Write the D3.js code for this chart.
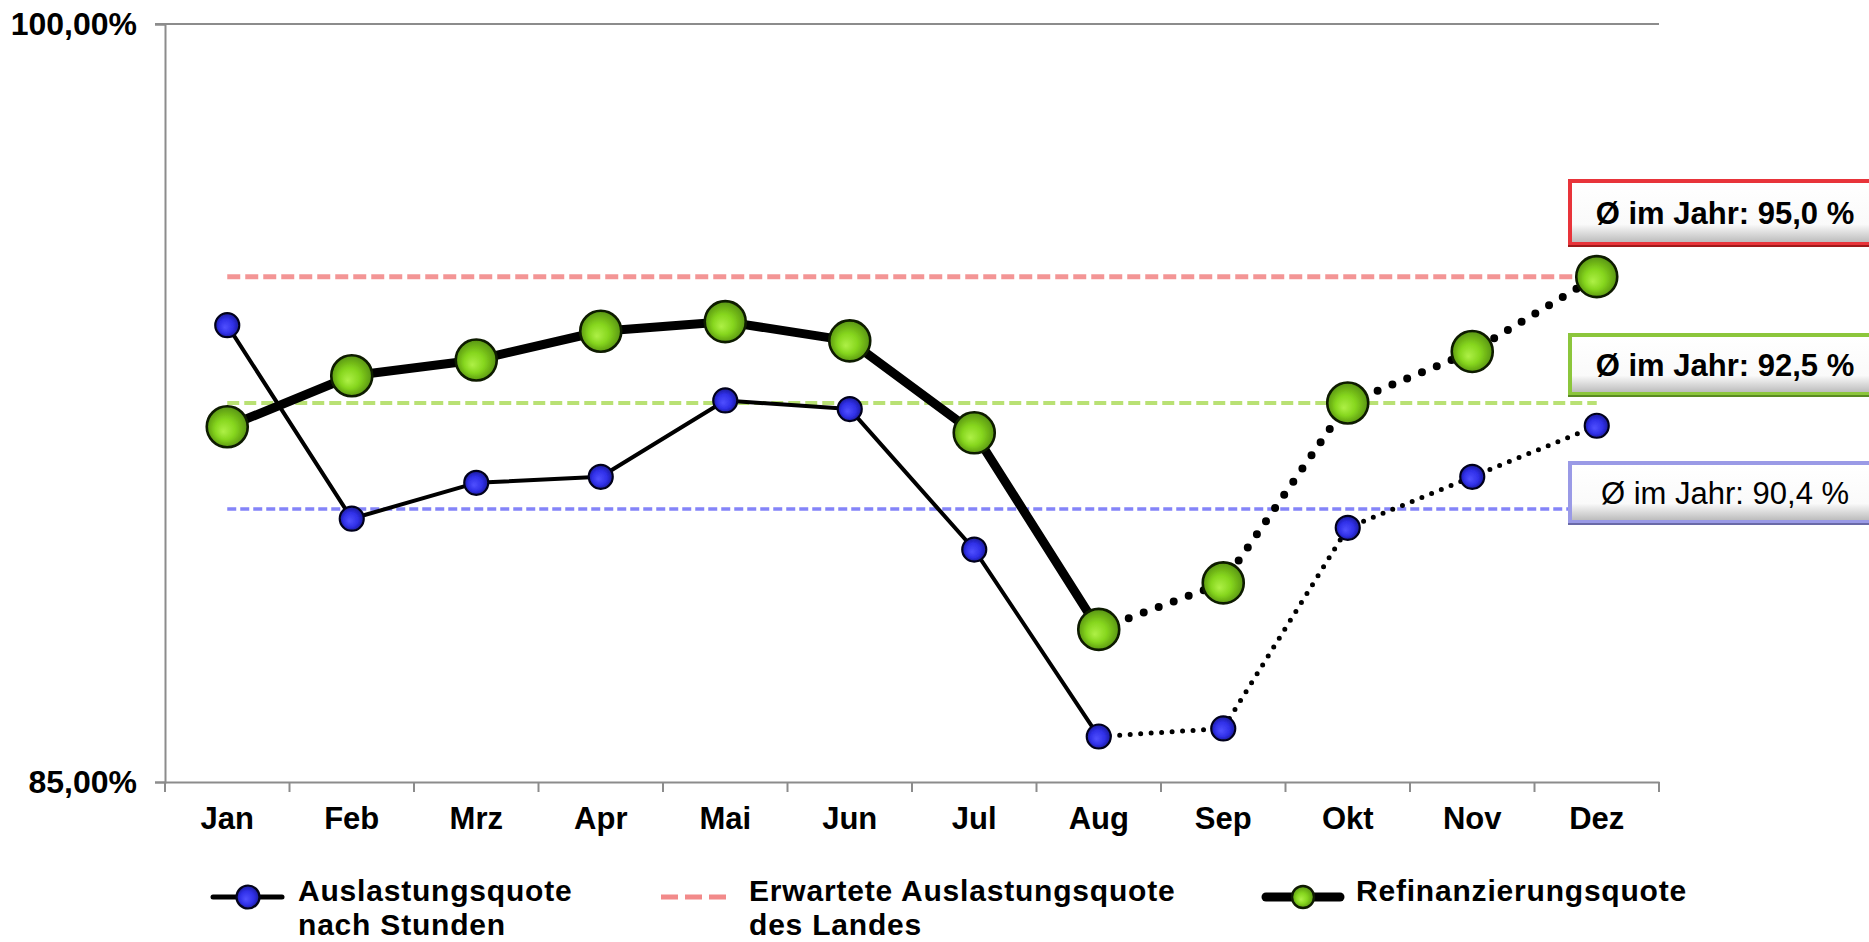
<!DOCTYPE html>
<html>
<head>
<meta charset="utf-8">
<script src="https://cdn.jsdelivr.net/npm/d3@7"></script>
<style>
  html, body { margin: 0; padding: 0; background: #fff; }
  svg { display: block; font-family: "Liberation Sans", Arial, sans-serif; }
</style>
</head>
<body>
<svg id="chart" width="1869" height="942"></svg>
<script>
// ---- data ----
const months = ["Jan","Feb","Mrz","Apr","Mai","Jun","Jul","Aug","Sep","Okt","Nov","Dez"];
const auslastung = [94.04, 90.21, 90.92, 91.04, 92.55, 92.38, 89.60, 85.90, 86.06, 90.03, 91.04, 92.05];
const refinanzierung = [92.03, 93.04, 93.35, 93.92, 94.11, 93.73, 91.91, 88.02, 88.94, 92.50, 93.52, 95.00];
const solidUntil = 7; // index of "Aug": solid up to here, dotted afterwards
const erwartet = 95.0;
const avgRefin = 92.5;
const avgAusl = 90.4;
const yTicks = [85, 100];
const boxLabels = ["Ø im Jahr: 95,0 %", "Ø im Jahr: 92,5 %", "Ø im Jahr: 90,4 %"];
const legendLabels = [["Auslastungsquote", "nach Stunden"], ["Erwartete Auslastungsquote", "des Landes"], ["Refinanzierungsquote"]];

(function () {
// ---- layout ----
const svg = d3.select("#chart");
const pLeft = 165, pRight = 1659, pTop = 24, pBottom = 782;
const x = d3.scaleBand().domain(months).range([pLeft, pRight]).padding(0);
const cx = m => x(m) + x.bandwidth() / 2;
const y = d3.scaleLinear().domain([85, 100]).range([pBottom, pTop]);

const defs = svg.append("defs");
const gGreen = defs.append("radialGradient").attr("id", "gGreen")
  .attr("cx", "50%").attr("cy", "50%").attr("r", "55%").attr("fx", "40%").attr("fy", "62%");
gGreen.append("stop").attr("offset", "0%").attr("stop-color", "#aef046");
gGreen.append("stop").attr("offset", "45%").attr("stop-color", "#86d61e");
gGreen.append("stop").attr("offset", "85%").attr("stop-color", "#5f9e12");
gGreen.append("stop").attr("offset", "100%").attr("stop-color", "#3f700a");
const gBlue = defs.append("radialGradient").attr("id", "gBlue")
  .attr("cx", "50%").attr("cy", "50%").attr("r", "55%").attr("fx", "40%").attr("fy", "60%");
gBlue.append("stop").attr("offset", "0%").attr("stop-color", "#5050ff");
gBlue.append("stop").attr("offset", "55%").attr("stop-color", "#3030e8");
gBlue.append("stop").attr("offset", "100%").attr("stop-color", "#15158a");
const gBox = defs.append("linearGradient").attr("id", "gBox").attr("x1", 0).attr("y1", 0).attr("x2", 0).attr("y2", 1);
gBox.append("stop").attr("offset", "0%").attr("stop-color", "#ffffff");
gBox.append("stop").attr("offset", "70%").attr("stop-color", "#fafafa");
gBox.append("stop").attr("offset", "100%").attr("stop-color", "#bdbdbd");
const blur = defs.append("filter").attr("id", "soft").attr("x", "-30%").attr("y", "-30%").attr("width", "160%").attr("height", "160%");
blur.append("feGaussianBlur").attr("stdDeviation", 0.6);

// ---- axes ----
const axisColor = "#8c8c8c";
svg.append("line").attr("x1", pLeft - 10).attr("x2", pRight).attr("y1", y(100)).attr("y2", y(100))
  .attr("stroke", axisColor).attr("stroke-width", 2);

const yAxis = svg.append("g").attr("transform", `translate(${pLeft},0)`)
  .call(d3.axisLeft(y).tickValues(yTicks).tickSize(10).tickPadding(18)
    .tickFormat(d => d.toFixed(2).replace(".", ",") + "%"));
yAxis.select(".domain").attr("stroke", axisColor).attr("stroke-width", 2);
yAxis.selectAll(".tick line").attr("stroke", axisColor).attr("stroke-width", 2);
yAxis.selectAll("text").attr("font-size", 32).attr("font-weight", "bold").attr("fill", "#000")
  .attr("font-family", "Liberation Sans, Arial, sans-serif");

const xAxis = svg.append("g").attr("transform", `translate(0,${pBottom})`)
  .call(d3.axisBottom(x).tickSize(0).tickPadding(25).tickSizeOuter(0));
xAxis.select(".domain").attr("stroke", axisColor).attr("stroke-width", 2);
xAxis.selectAll("text").attr("font-size", 31).attr("font-weight", "bold").attr("fill", "#000")
  .attr("font-family", "Liberation Sans, Arial, sans-serif");
const bounds = months.map(m => x(m)).concat([x(months[months.length - 1]) + x.bandwidth()]);
svg.append("g").selectAll("line").data(bounds).join("line")
  .attr("x1", d => d).attr("x2", d => d).attr("y1", pBottom).attr("y2", pBottom + 10)
  .attr("stroke", axisColor).attr("stroke-width", 2);

// ---- reference lines ----
const refs = [
  { v: erwartet, color: "#f28a8a", w: 5, dash: "13,5" },
  { v: avgRefin, color: "#b2de66", w: 4, dash: "12,5" },
  { v: avgAusl, color: "#7777f8", w: 3.5, dash: "9,4" }
];
svg.append("g").selectAll("line").data(refs).join("line")
  .attr("x1", cx(months[0])).attr("x2", cx(months[months.length - 1]))
  .attr("y1", d => y(d.v)).attr("y2", d => y(d.v))
  .attr("stroke", d => d.color).attr("stroke-width", d => d.w)
  .attr("stroke-dasharray", d => d.dash).attr("opacity", 0.9);

// ---- series ----
const line = d3.line().x(d => cx(d.m)).y(d => y(d.v));
function drawSeries(values, solidW, dotW, dotGap) {
  const pts = values.map((v, i) => ({ m: months[i], v }));
  svg.append("path").datum(pts.slice(0, solidUntil + 1)).attr("d", line)
    .attr("fill", "none").attr("stroke", "#000").attr("stroke-width", solidW)
    .attr("stroke-linejoin", "round");
  svg.append("path").datum(pts.slice(solidUntil)).attr("d", line)
    .attr("fill", "none").attr("stroke", "#000").attr("stroke-width", dotW)
    .attr("stroke-linecap", "round").attr("stroke-dasharray", `0,${dotGap}`);
  return pts;
}
const blueFull = drawSeries(auslastung, 4, 5, 10.5);
const greenFull = drawSeries(refinanzierung, 9, 8, 16);

svg.append("g").selectAll("circle").data(blueFull).join("circle")
  .attr("cx", d => cx(d.m)).attr("cy", d => y(d.v)).attr("r", 12)
  .attr("fill", "url(#gBlue)").attr("stroke", "#05051a").attr("stroke-width", 2.2)
  .attr("filter", "url(#soft)");
svg.append("g").selectAll("circle").data(greenFull).join("circle")
  .attr("cx", d => cx(d.m)).attr("cy", d => y(d.v)).attr("r", 20.5)
  .attr("fill", "url(#gGreen)").attr("stroke", "#0f1a02").attr("stroke-width", 2.6)
  .attr("filter", "url(#soft)");

// ---- average boxes ----
const boxes = [
  { y0: 179, h: 68, border: "#e8343a", dark: "#9e1a1a", label: boxLabels[0], bold: true },
  { y0: 333, h: 64, border: "#8cc63c", dark: "#5a8a22", label: boxLabels[1], bold: true },
  { y0: 461, h: 64, border: "#9a9ae6", dark: "#6a6aa8", label: boxLabels[2], bold: false }
];
const bx = 1568, bw = 320;
const bg = svg.append("g").selectAll("g").data(boxes).join("g");
bg.append("rect").attr("x", bx).attr("y", d => d.y0).attr("width", bw).attr("height", d => d.h)
  .attr("fill", d => d.dark);
bg.append("rect").attr("x", bx).attr("y", d => d.y0).attr("width", bw).attr("height", d => d.h - 2)
  .attr("fill", d => d.border);
bg.append("rect").attr("x", bx + 4).attr("y", d => d.y0 + 4).attr("width", bw - 8).attr("height", d => d.h - 9)
  .attr("fill", "url(#gBox)");
bg.append("text").attr("x", 1725).attr("y", d => d.y0 + d.h / 2 + 11)
  .attr("text-anchor", "middle").attr("font-size", 31)
  .attr("font-weight", d => d.bold ? "bold" : "normal").attr("fill", "#000")
  .text(d => d.label);

// ---- legend ----
const lg = svg.append("g");
const ly = 897;
lg.append("line").attr("x1", 213).attr("x2", 282).attr("y1", ly).attr("y2", ly)
  .attr("stroke", "#000").attr("stroke-width", 5).attr("stroke-linecap", "round");
lg.append("circle").attr("cx", 248).attr("cy", ly).attr("r", 11.5)
  .attr("fill", "url(#gBlue)").attr("stroke", "#05051a").attr("stroke-width", 2.2);
lg.append("line").attr("x1", 661).attr("x2", 726).attr("y1", ly).attr("y2", ly)
  .attr("stroke", refs[0].color).attr("stroke-width", 5).attr("stroke-dasharray", "17,7");
lg.append("line").attr("x1", 1266).attr("x2", 1340).attr("y1", ly).attr("y2", ly)
  .attr("stroke", "#000").attr("stroke-width", 9).attr("stroke-linecap", "round");
lg.append("circle").attr("cx", 1303).attr("cy", ly).attr("r", 11)
  .attr("fill", "url(#gGreen)").attr("stroke", "#0f1a02").attr("stroke-width", 2.4);

const legendX = [298, 749, 1356];
legendLabels.forEach((lines, i) => {
  lines.forEach((s, j) => {
    lg.append("text").attr("x", legendX[i]).attr("y", 901 + j * 34)
      .attr("font-size", 30).attr("letter-spacing", 0.8)
      .attr("font-weight", "bold").attr("fill", "#000").text(s);
  });
});
})();
</script>
</body>
</html>
